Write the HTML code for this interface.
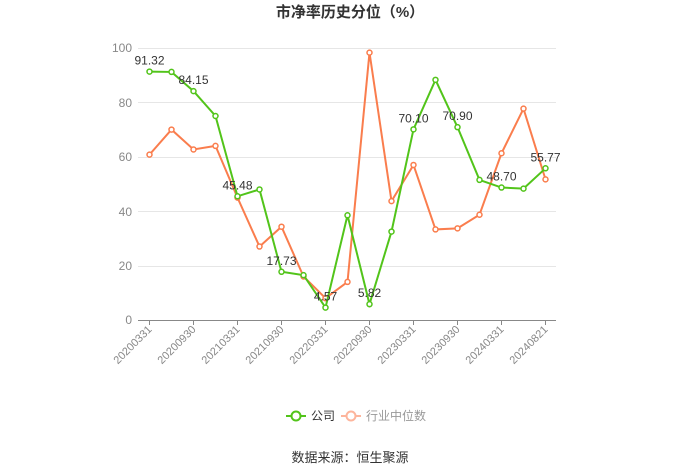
<!DOCTYPE html><html><head><meta charset="utf-8"><style>body{margin:0;background:#fff}svg{display:block}text{font-family:"Liberation Sans","Noto Sans CJK SC",sans-serif}</style></head><body>
<svg id="s" width="700" height="473" xmlns="http://www.w3.org/2000/svg">
<text x="350" y="17" text-anchor="middle" font-size="15" font-weight="bold" fill="#333">市净率历史分位（%）</text>
<g stroke="#e6e6e6" stroke-width="1">
<line x1="138" x2="556" y1="48.5" y2="48.5"/><line x1="138" x2="556" y1="102.5" y2="102.5"/><line x1="138" x2="556" y1="157.5" y2="157.5"/><line x1="138" x2="556" y1="211.5" y2="211.5"/><line x1="138" x2="556" y1="266.5" y2="266.5"/></g>
<line x1="138" x2="556" y1="320.5" y2="320.5" stroke="#888"/>
<g font-size="12" fill="#888" text-anchor="end">
<text x="132" y="52">100</text><text x="132" y="107">80</text><text x="132" y="161">60</text><text x="132" y="216">40</text><text x="132" y="270">20</text><text x="132" y="324">0</text></g>
<g id="ax"></g>
<g id="pl"></g>
<g transform="translate(286,416)"><line x1="0" x2="20" y1="0" y2="0" stroke="#52c41a" stroke-width="2"/><circle cx="10" cy="0" r="4.5" fill="#fff" stroke="#52c41a" stroke-width="2"/><text x="25" y="4" font-size="12" fill="#333">公司</text>
<line x1="55" x2="75" y1="0" y2="0" stroke="#fdb59c" stroke-width="2"/><circle cx="65" cy="0" r="4.5" fill="#fff" stroke="#fdb59c" stroke-width="2"/><text x="80" y="4" font-size="12" fill="#999">行业中位数</text></g>
<text x="350" y="462" text-anchor="middle" font-size="13" fill="#333">数据来源：恒生聚源</text>
</svg>
<script>
var g=[91.32,91.2,84.15,75,45.48,48,17.73,16.5,4.57,38.5,5.82,32.5,70.10,88.3,70.90,51.5,48.70,48.3,55.77];
var o=[60.8,70,62.7,64,45,27,34.3,16,8,14,98.3,43.7,57,33.3,33.7,38.7,61.3,77.7,51.7];
var labs=['20200331','20200930','20210331','20210930','20220331','20220930','20230331','20230930','20240331','20240821'];
function X(i){return 149.5+i*22}function Y(v){return 320-v*2.72}
var h='';
labs.forEach(function(l,k){var x=X(k*2);h+='<line x1="'+x+'" x2="'+x+'" y1="320" y2="325" stroke="#888"/><text transform="translate('+(x+3)+',330) rotate(-45)" text-anchor="end" font-size="11" fill="#888">'+l+'</text>';});
document.getElementById('ax').innerHTML=h;
function series(d,c){var p=d.map(function(v,i){return X(i)+','+Y(v)}).join(' ');var s='<polyline points="'+p+'" fill="none" stroke="'+c+'" stroke-width="2"/>';d.forEach(function(v,i){s+='<circle cx="'+X(i)+'" cy="'+Y(v)+'" r="2.5" fill="#fff" stroke="'+c+'" stroke-width="1.5"/>'});return s;}
var s=series(o,'#fa7d4d')+series(g,'#52c41a');
var L={0:'91.32',2:'84.15',4:'45.48',6:'17.73',8:'4.57',10:'5.82',12:'70.10',14:'70.90',16:'48.70',18:'55.77'};
for(var k in L){s+='<text x="'+X(+k)+'" y="'+(Y(g[k])-7)+'" text-anchor="middle" font-size="12" fill="#333">'+L[k]+'</text>';}
document.getElementById('pl').innerHTML=s;
</script>
</body></html>
